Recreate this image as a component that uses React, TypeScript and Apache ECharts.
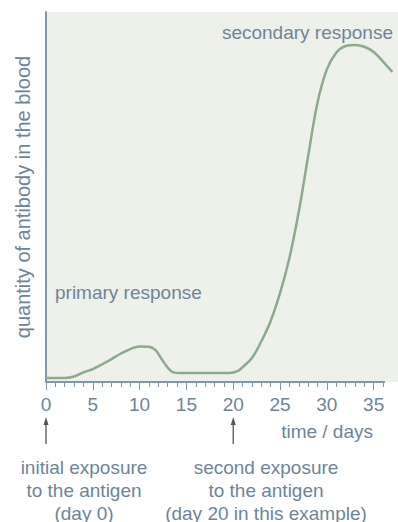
import React, { useEffect, useRef } from "react";
import * as echarts from "echarts";

const days = [0, 1, 2, 3, 4, 5, 6, 7, 8, 9, 10, 11, 11.7, 12.3, 13, 13.6, 14.3, 17, 19.6, 20.5, 21, 22, 23, 24, 25, 26, 27, 28, 29, 30, 31, 32, 33, 34, 35, 36, 37];
const antibody = [1.1, 1.1, 1.1, 1.5, 2.6, 3.5, 4.8, 6.2, 7.7, 8.9, 9.6, 9.5, 8.6, 6.4, 3.9, 2.6, 2.4, 2.4, 2.4, 3.0, 4.0, 6.5, 11.0, 16.5, 24.0, 33.5, 46.0, 61.0, 75.5, 84.5, 89.0, 90.8, 91.1, 90.6, 89.2, 86.6, 83.8];
const majorTicks = [0, 5, 10, 15, 20, 25, 30, 35];
const minorTicks = Array.from({ length: 37 }, (_, i) => i);
const axisEnd = 36.2;
const exposureDays = [0, 20];

const TEXT = "#6e8598";
const AXIS = "#7f98ab";
const FONT = "'Liberation Sans', Arial, sans-serif";

export default function App() {
  const ref = useRef<HTMLDivElement>(null);
  useEffect(() => {
    const chart = echarts.init(ref.current!, null, { renderer: "svg" });
    const baseX = {
      type: "value",
      min: 0,
      max: 37.6,
      splitLine: { show: false },
      axisLine: { show: false },
    };
    chart.setOption({
      animation: false,
      grid: {
        left: 46,
        right: 0,
        top: 12,
        bottom: 140,
        show: true,
        backgroundColor: "#eef0ea",
        borderWidth: 0,
      },
      xAxis: [
        {
          ...baseX,
          axisTick: { show: true, customValues: minorTicks, length: 5, lineStyle: { color: AXIS, width: 1 } },
          axisLabel: {
            customValues: majorTicks,
            color: TEXT,
            fontSize: 19,
            fontFamily: FONT,
            margin: 13,
          },
        },
        {
          ...baseX,
          position: "bottom",
          axisTick: { show: true, customValues: majorTicks, length: 8, lineStyle: { color: AXIS, width: 1 } },
          axisLabel: { show: false },
        },
      ],
      yAxis: {
        type: "value",
        min: 0,
        max: 100,
        axisLine: { show: true, lineStyle: { color: AXIS, width: 2 } },
        axisTick: { show: false },
        axisLabel: { show: false },
        splitLine: { show: false },
        name: "quantity of antibody in the blood",
        nameLocation: "middle",
        nameGap: 13,
        nameTextStyle: { color: TEXT, fontSize: 20, fontFamily: FONT },
      },
      series: [
        {
          type: "line",
          data: days.map((d, i) => [d, antibody[i]]),
          smooth: 0.4,
          symbol: "none",
          lineStyle: { color: "#8cab8c", width: 2.5 },
          markLine: {
            silent: true,
            symbol: "none",
            label: { show: false },
            lineStyle: { color: AXIS, width: 2, type: "solid" },
            data: [[{ coord: [0, 0] }, { coord: [axisEnd, 0] }]],
          },
        },
      ],
    });

    const txt = (x: number, y: number, text: string, align: string) => ({
      type: "text",
      x,
      y,
      style: { text, fill: TEXT, fontSize: 19, fontFamily: FONT, align, verticalAlign: "middle" },
    });
    const arrows = exposureDays.flatMap((d) => {
      const px = chart.convertToPixel({ xAxisIndex: 0 }, d) as number;
      return [
        { type: "line", shape: { x1: px, y1: 422, x2: px, y2: 444 }, style: { stroke: "#555", lineWidth: 1.3 } },
        { type: "polygon", shape: { points: [[px, 417], [px - 2.5, 425], [px + 2.5, 425]] }, style: { fill: "#555" } },
      ];
    });
    chart.setOption({
      graphic: [
        txt(393, 32, "secondary response", "right"),
        txt(55, 292, "primary response", "left"),
        txt(373, 431, "time / days", "right"),
        txt(84, 467, "initial exposure", "center"),
        txt(84, 490, "to the antigen", "center"),
        txt(84, 513, "(day 0)", "center"),
        txt(266, 467, "second exposure", "center"),
        txt(266, 490, "to the antigen", "center"),
        txt(266, 513, "(day 20 in this example)", "center"),
        ...arrows,
      ],
    });
    return () => chart.dispose();
  }, []);
  return <div ref={ref} style={{ position: "absolute", left: 0, top: 0, width: 398, height: 522 }} />;
}
